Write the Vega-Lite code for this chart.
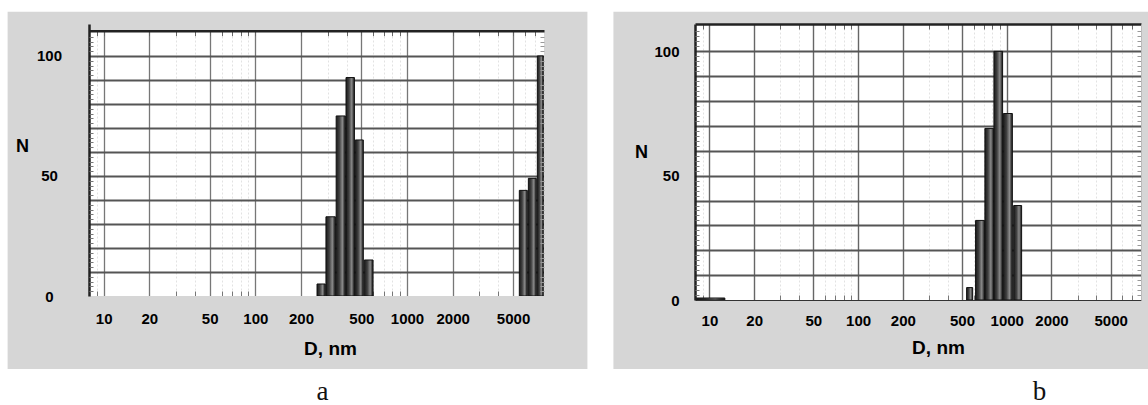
{
  "$schema": "https://vega.github.io/schema/vega-lite/v6.json",
  "background": "white",
  "padding": {"left": 7, "top": 11, "right": 0, "bottom": 0},
  "autosize": {"type": "pad"},
  "spacing": 25,
  "config": {"view": {"stroke": null, "fill": "white"}, "font": "Liberation Sans"},
  "hconcat": [
    {
      "width": 455,
      "height": 272,
      "title": {"text": "a", "orient": "bottom", "frame": "group", "anchor": "middle", "font": "Liberation Serif", "fontSize": 27, "fontWeight": "normal", "color": "#111", "dx": 6, "offset": 31, "baseline": "alphabetic"},
      "layer": [
        {
          "data": {"values": [
            {"D_from": 255, "D_to": 289, "N": 5},
            {"D_from": 292, "D_to": 337, "N": 33},
            {"D_from": 341, "D_to": 392, "N": 75},
            {"D_from": 396, "D_to": 450, "N": 91},
            {"D_from": 456, "D_to": 515, "N": 65},
            {"D_from": 523, "D_to": 597, "N": 15},
            {"D_from": 5500, "D_to": 6210, "N": 44},
            {"D_from": 6310, "D_to": 7120, "N": 49},
            {"D_from": 7230, "D_to": 7910, "N": 100}
          ]},
          "mark": {"type": "bar", "stroke": "#111", "strokeWidth": 1,
            "fill": {"gradient": "linear", "x1": 0, "y1": 0, "x2": 1, "y2": 0, "stops": [
              {"offset": 0, "color": "#1a1a1a"}, {"offset": 0.35, "color": "#404040"}, {"offset": 0.68, "color": "#8a8a8a"}, {"offset": 0.85, "color": "#484848"}, {"offset": 1, "color": "#1a1a1a"}]}},
          "encoding": {
            "x": {"field": "D_from", "type": "quantitative", "scale": {"type": "log", "domain": [8, 8000], "nice": false},
              "axis": {"orient": "bottom", "values": [10, 20, 50, 100, 200, 500, 1000, 2000, 5000], "labels": false, "ticks": false, "domain": false, "grid": true, "gridColor": "#777", "gridWidth": 1.3, "title": null, "zindex": 0}},
            "x2": {"field": "D_to"},
            "y": {"field": "N", "type": "quantitative", "scale": {"domain": [0, 113.3], "nice": false, "zero": false},
              "axis": {"orient": "left", "values": [10, 20, 30, 40, 50, 60, 70, 80, 90, 100], "labels": false, "ticks": false, "domain": false, "grid": true, "gridColor": "#555", "gridWidth": 1.8, "title": null, "zindex": 0}},
            "y2": {"datum": 0}
          }
        },
        {
          "data": {"values": [{}]},
          "mark": {"type": "rect", "color": "#d6d6d6"},
          "encoding": {
            "x": {"datum": 2.325, "type": "quantitative", "scale": {"type": "log", "domain": [8, 8000], "nice": false},
              "axis": {"orient": "bottom", "values": [10, 20, 50, 100, 200, 500, 1000, 2000, 5000], "format": "d", "labelFontWeight": "bold", "labelFontSize": 15, "labelColor": "#000", "labelPadding": 15, "labelFlush": false, "labelOverlap": false, "ticks": false, "domain": false, "grid": false,
                "title": "D, nm", "titleFontSize": 19, "titleFontWeight": "bold", "titleColor": "#000", "titleX": 241, "titleY": 52, "titleAlign": "center", "titleBaseline": "middle", "zindex": 1}},
            "x2": {"datum": 8},
            "y": {"datum": -30.44, "type": "quantitative", "scale": {"domain": [0, 113.3], "nice": false, "zero": false},
              "axis": {"orient": "left", "values": [0, 50, 100], "labelFontWeight": "bold", "labelFontSize": 15, "labelColor": "#000", "labelAlign": "center", "labelBaseline": "middle", "labelPadding": 40, "labelFlush": false, "labelOverlap": false, "ticks": false, "domain": true, "domainColor": "#222", "domainWidth": 2.5, "grid": false,
                "title": "N", "titleAngle": 0, "titleFontSize": 18, "titleFontWeight": "bold", "titleColor": "#000", "titleX": -67, "titleY": 122.5, "titleAlign": "center", "titleBaseline": "middle", "zindex": 1}},
            "y2": {"datum": 118.4}
          }
        },
        {
          "data": {"values": [{}]},
          "mark": {"type": "rect", "color": "#d6d6d6"},
          "encoding": {
            "x": {"datum": 8000, "type": "quantitative", "scale": {"type": "log", "domain": [8, 8000], "nice": false},
              "axis": {"orient": "top", "offset": -6.7, "values": [9, 10, 20, 30, 40, 50, 60, 70, 80, 90, 100, 200, 300, 400, 500, 600, 700, 800, 900, 1000, 2000, 3000, 4000, 5000, 6000, 7000], "labels": false, "ticks": true, "tickSize": -5, "tickColor": "#666", "tickWidth": 1, "domain": true, "domainColor": "#222", "domainWidth": 2.5, "grid": false, "title": null, "zindex": 1}},
            "x2": {"datum": 15465},
            "y": {"datum": -30.44, "type": "quantitative", "scale": {"domain": [0, 113.3], "nice": false, "zero": false},
              "axis": {"orient": "left", "values": [2, 4, 6, 8, 12, 14, 16, 18, 22, 24, 26, 28, 32, 34, 36, 38, 42, 44, 46, 48, 52, 54, 56, 58, 62, 64, 66, 68, 72, 74, 76, 78, 82, 84, 86, 88, 92, 94, 96, 98, 102, 104, 106, 108], "labels": false, "ticks": true, "tickSize": -4, "tickColor": "#777", "tickWidth": 1, "domain": false, "grid": false, "title": null, "zindex": 1}},
            "y2": {"datum": 118.4}
          }
        },
        {
          "data": {"values": [{}]},
          "mark": {"type": "rect", "color": "#d6d6d6"},
          "encoding": {
            "x": {"datum": 8, "type": "quantitative", "scale": {"type": "log", "domain": [8, 8000], "nice": false},
              "axis": {"orient": "bottom", "values": [9, 30, 40, 60, 70, 80, 90, 300, 400, 600, 700, 800, 900, 3000, 4000, 6000, 7000], "labels": false, "ticks": true, "tickSize": -5, "tickColor": "#777", "tickWidth": 1, "domain": false, "grid": true, "gridColor": "#e2e2e2", "gridWidth": 1, "gridDash": [2, 2], "title": null, "zindex": 0}},
            "x2": {"datum": 8000},
            "y": {"datum": 110.5, "type": "quantitative", "scale": {"domain": [0, 113.3], "nice": false, "zero": false},
              "axis": {"orient": "right", "values": [2, 4, 6, 8, 12, 14, 16, 18, 22, 24, 26, 28, 32, 34, 36, 38, 42, 44, 46, 48, 52, 54, 56, 58, 62, 64, 66, 68, 72, 74, 76, 78, 82, 84, 86, 88, 92, 94, 96, 98, 102, 104, 106, 108], "labels": false, "ticks": true, "tickSize": -4, "tickColor": "#999", "tickWidth": 1, "domain": false, "grid": false, "title": null, "zindex": 1}},
            "y2": {"datum": 118.4}
          }
        },
        {
          "data": {"values": [{}]},
          "mark": {"type": "rect", "color": "#d6d6d6"},
          "encoding": {
            "x": {"datum": 8, "type": "quantitative", "scale": {"type": "log", "domain": [8, 8000], "nice": false}, "axis": null},
            "x2": {"datum": 8000},
            "y": {"datum": -30.44, "type": "quantitative", "scale": {"domain": [0, 113.3], "nice": false, "zero": false}, "axis": null},
            "y2": {"datum": 0}
          }
        }
      ],
      "resolve": {"axis": {"x": "independent", "y": "independent"}}
    },
    {
      "width": 446,
      "height": 276,
      "title": {"text": "b", "orient": "bottom", "frame": "group", "anchor": "middle", "font": "Liberation Serif", "fontSize": 27, "fontWeight": "normal", "color": "#111", "dx": 121.5, "offset": 31, "baseline": "alphabetic"},
      "layer": [
        {
          "data": {"values": [
            {"D_from": 8, "D_to": 12.7, "N": 0.8},
            {"D_from": 537, "D_to": 590, "N": 5},
            {"D_from": 617, "D_to": 710, "N": 32},
            {"D_from": 713, "D_to": 817, "N": 69},
            {"D_from": 820, "D_to": 938, "N": 100},
            {"D_from": 949, "D_to": 1091, "N": 75},
            {"D_from": 1113, "D_to": 1259, "N": 38}
          ]},
          "mark": {"type": "bar", "stroke": "#111", "strokeWidth": 1,
            "fill": {"gradient": "linear", "x1": 0, "y1": 0, "x2": 1, "y2": 0, "stops": [
              {"offset": 0, "color": "#1a1a1a"}, {"offset": 0.35, "color": "#404040"}, {"offset": 0.68, "color": "#8a8a8a"}, {"offset": 0.85, "color": "#484848"}, {"offset": 1, "color": "#1a1a1a"}]}},
          "encoding": {
            "x": {"field": "D_from", "type": "quantitative", "scale": {"type": "log", "domain": [8, 8000], "nice": false},
              "axis": {"orient": "bottom", "values": [10, 20, 50, 100, 200, 500, 1000, 2000, 5000], "labels": false, "ticks": false, "domain": false, "grid": true, "gridColor": "#666", "gridWidth": 1.4, "title": null, "zindex": 0}},
            "x2": {"field": "D_to"},
            "y": {"field": "N", "type": "quantitative", "scale": {"domain": [0, 111], "nice": false, "zero": false},
              "axis": {"orient": "left", "values": [10, 20, 30, 40, 50, 60, 70, 80, 90, 100], "labels": false, "ticks": false, "domain": false, "grid": true, "gridColor": "#555", "gridWidth": 1.8, "title": null, "zindex": 0}},
            "y2": {"datum": 0}
          }
        },
        {
          "data": {"values": [{}]},
          "mark": {"type": "rect", "color": "#d6d6d6"},
          "encoding": {
            "x": {"datum": 2.261, "type": "quantitative", "scale": {"type": "log", "domain": [8, 8000], "nice": false},
              "axis": {"orient": "bottom", "values": [10, 20, 50, 100, 200, 500, 1000, 2000, 5000], "format": "d", "labelFontWeight": "bold", "labelFontSize": 15, "labelColor": "#000", "labelPadding": 13, "labelFlush": false, "labelOverlap": false, "ticks": false, "domain": true, "domainColor": "#333", "domainWidth": 1, "grid": false,
                "title": "D, nm", "titleFontSize": 19, "titleFontWeight": "bold", "titleColor": "#000", "titleX": 243, "titleY": 47.5, "titleAlign": "center", "titleBaseline": "middle", "zindex": 1}},
            "x2": {"datum": 8},
            "y": {"datum": -27.75, "type": "quantitative", "scale": {"domain": [0, 111], "nice": false, "zero": false},
              "axis": {"orient": "left", "values": [0, 50, 100], "labelFontWeight": "bold", "labelFontSize": 15, "labelColor": "#000", "labelAlign": "right", "labelBaseline": "middle", "labelPadding": 16, "labelFlush": false, "labelOverlap": false, "ticks": false, "domain": true, "domainColor": "#222", "domainWidth": 2.5, "grid": false,
                "title": "N", "titleAngle": 0, "titleFontSize": 18, "titleFontWeight": "bold", "titleColor": "#000", "titleX": -54, "titleY": 128, "titleAlign": "center", "titleBaseline": "middle", "zindex": 1}},
            "y2": {"datum": 115.95}
          }
        },
        {
          "data": {"values": [{}]},
          "mark": {"type": "rect", "color": "#d6d6d6"},
          "encoding": {
            "x": {"datum": 8000, "type": "quantitative", "scale": {"type": "log", "domain": [8, 8000], "nice": false},
              "axis": {"orient": "top", "values": [9, 10, 20, 30, 40, 50, 60, 70, 80, 90, 100, 200, 300, 400, 500, 600, 700, 800, 900, 1000, 2000, 3000, 4000, 5000, 6000, 7000], "labels": false, "ticks": true, "tickSize": -5, "tickColor": "#666", "tickWidth": 1, "domain": true, "domainColor": "#222", "domainWidth": 2.5, "grid": false, "title": null, "zindex": 1}},
            "x2": {"datum": 9100},
            "y": {"datum": -27.75, "type": "quantitative", "scale": {"domain": [0, 111], "nice": false, "zero": false},
              "axis": {"orient": "left", "values": [2, 4, 6, 8, 12, 14, 16, 18, 22, 24, 26, 28, 32, 34, 36, 38, 42, 44, 46, 48, 52, 54, 56, 58, 62, 64, 66, 68, 72, 74, 76, 78, 82, 84, 86, 88, 92, 94, 96, 98, 102, 104, 106, 108], "labels": false, "ticks": true, "tickSize": -4, "tickColor": "#777", "tickWidth": 1, "domain": false, "grid": false, "title": null, "zindex": 1}},
            "y2": {"datum": 115.95}
          }
        },
        {
          "data": {"values": [{}]},
          "mark": {"type": "rect", "color": "#d6d6d6"},
          "encoding": {
            "x": {"datum": 8, "type": "quantitative", "scale": {"type": "log", "domain": [8, 8000], "nice": false},
              "axis": {"orient": "bottom", "values": [9, 30, 40, 60, 70, 80, 90, 300, 400, 600, 700, 800, 900, 3000, 4000, 6000, 7000], "labels": false, "ticks": true, "tickSize": -5, "tickColor": "#777", "tickWidth": 1, "domain": false, "grid": true, "gridColor": "#e2e2e2", "gridWidth": 1, "gridDash": [2, 2], "title": null, "zindex": 0}},
            "x2": {"datum": 8000},
            "y": {"datum": 111, "type": "quantitative", "scale": {"domain": [0, 111], "nice": false, "zero": false},
              "axis": {"orient": "right", "values": [2, 4, 6, 8, 12, 14, 16, 18, 22, 24, 26, 28, 32, 34, 36, 38, 42, 44, 46, 48, 52, 54, 56, 58, 62, 64, 66, 68, 72, 74, 76, 78, 82, 84, 86, 88, 92, 94, 96, 98, 102, 104, 106, 108], "labels": false, "ticks": true, "tickSize": -4, "tickColor": "#999", "tickWidth": 1, "domain": true, "domainColor": "#bbb", "domainWidth": 1, "grid": false, "title": null, "zindex": 1}},
            "y2": {"datum": 115.95}
          }
        },
        {
          "data": {"values": [{}]},
          "mark": {"type": "rect", "color": "#d6d6d6"},
          "encoding": {
            "x": {"datum": 8, "type": "quantitative", "scale": {"type": "log", "domain": [8, 8000], "nice": false}, "axis": null},
            "x2": {"datum": 8000},
            "y": {"datum": -27.75, "type": "quantitative", "scale": {"domain": [0, 111], "nice": false, "zero": false}, "axis": null},
            "y2": {"datum": 0}
          }
        }
      ],
      "resolve": {"axis": {"x": "independent", "y": "independent"}}
    }
  ]
}
